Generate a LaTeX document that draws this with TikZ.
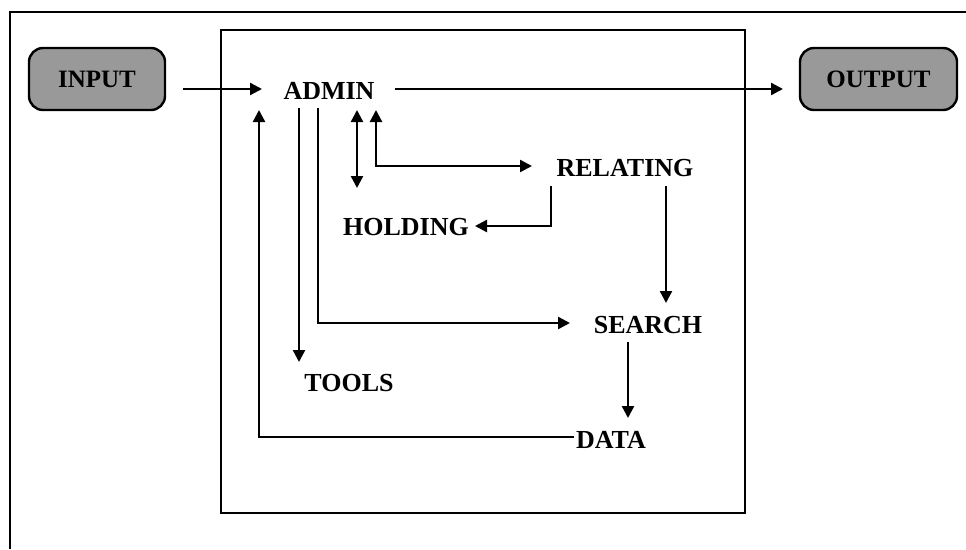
\documentclass[tikz,border=0pt]{standalone}
\usepackage{fontspec}
\setmainfont{Liberation Serif}
\usetikzlibrary{arrows.meta}
\begin{document}
\begin{tikzpicture}[x=1pt,y=-1pt,
  frame/.style={line width=2.6pt},
  lbl/.style={font=\fontsize{26}{28}\selectfont\bfseries, inner sep=0pt},
  term/.style={draw, line width=2.4pt, rounded corners=14pt, fill=black!40,
     minimum height=62pt, inner sep=0pt, font=\fontsize{25}{27}\selectfont\bfseries},
  link/.style={line width=2.4pt},
  arr/.style={link, -{Triangle[length=12pt,width=12pt]}},
  darr/.style={link, {Triangle[length=12pt,width=12pt]}-{Triangle[length=12pt,width=12pt]}}]
\useasboundingbox (0,0) rectangle (966,549);
% outer frame (cut by page edges)
\draw[frame] (10,549) -- (10,12) -- (966,12);
% inner box
\draw[frame] (221,30) rectangle (745,513);
% terminals
\node[term, minimum width=136pt] (input) at (97,79) {INPUT};
\node[term, minimum width=157pt] (output) at (878.5,79) {OUTPUT};
% labels
\node[lbl] (admin) at (329,91) {ADMIN};
\node[lbl] (relating) at (625,168) {RELATING};
\node[lbl] (holding) at (406,227) {HOLDING};
\node[lbl] (search) at (648,325) {SEARCH};
\node[lbl] (tools) at (349,383) {TOOLS};
\node[lbl] (data) at (611,440) {DATA};
% helper coordinates
\coordinate (inA) at (183,89);
\coordinate (inB) at (262,89);
\coordinate (outA) at (395,89);
\coordinate (outB) at (783,89);
\coordinate (dUp) at (259,110);
\coordinate (tTop) at (299,108);
\coordinate (tEnd) at (299,362);
\coordinate (sTop) at (318,108);
\coordinate (sCorner) at (318,323);
\coordinate (sEnd) at (570,323);
\coordinate (hA) at (357,110);
\coordinate (hB) at (357,188);
\coordinate (rTop) at (376,110);
\coordinate (rCorner) at (376,166);
\coordinate (rEnd) at (532,166);
\coordinate (rhTop) at (551,186);
\coordinate (rhEnd) at (475,226);
\coordinate (rsTop) at (666,186);
\coordinate (rsEnd) at (666,303);
\coordinate (sdTop) at (628,342);
\coordinate (sdEnd) at (628,418);
\coordinate (dStart) at (574,437);
% connectors
\draw[arr] (inA) -- (inB);
\draw[arr] (outA) -- (outB);
\draw[arr] (dStart) -| (dUp);
\draw[arr] (tTop) -- (tEnd);
\draw[arr] (sTop) -- (sCorner) -- (sEnd);
\draw[darr] (hA) -- (hB);
\draw[darr] (rTop) -- (rCorner) -- (rEnd);
\draw[arr] (rhTop) |- (rhEnd);
\draw[arr] (rsTop) -- (rsEnd);
\draw[arr] (sdTop) -- (sdEnd);
\end{tikzpicture}
\end{document}
